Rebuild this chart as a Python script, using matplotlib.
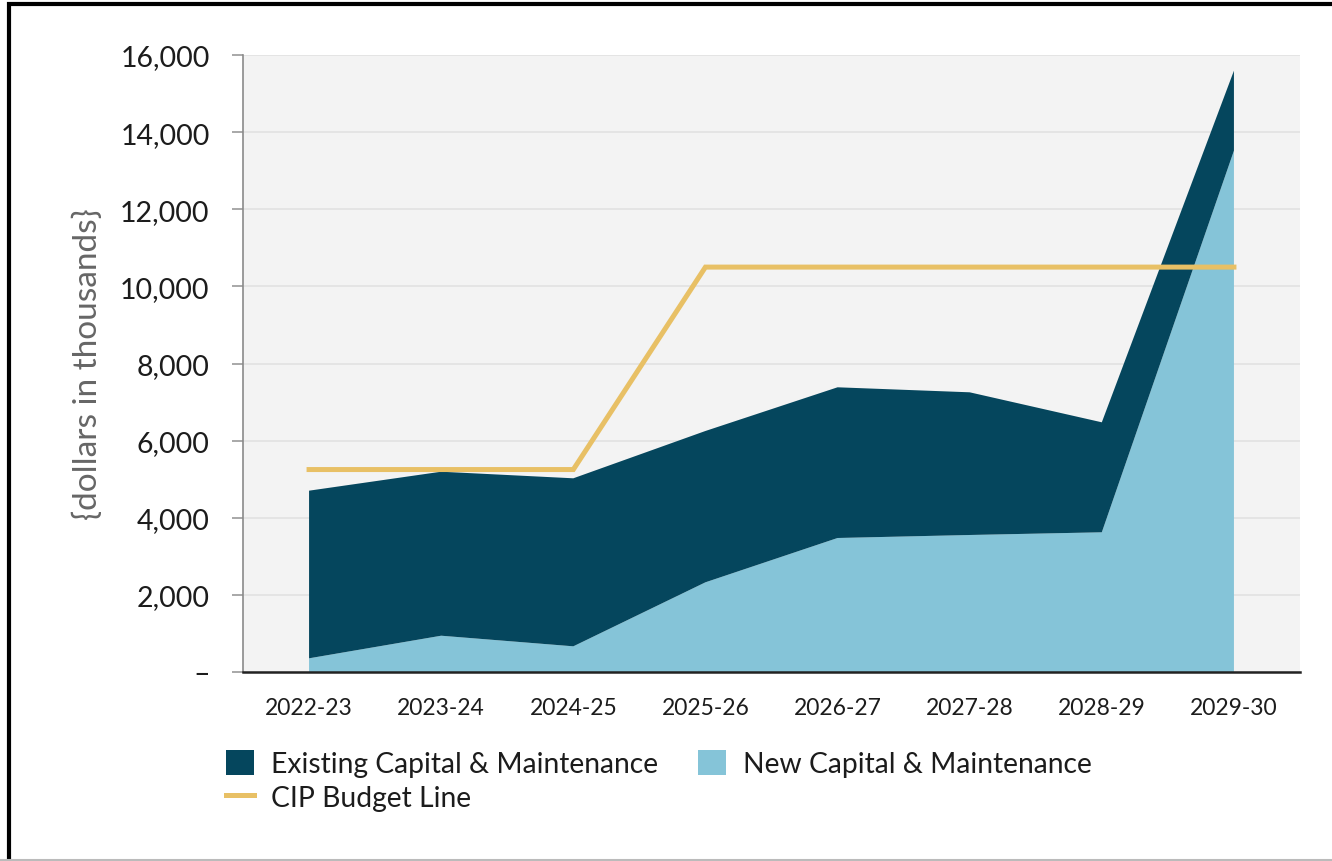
import matplotlib.pyplot as plt
from matplotlib.patches import Patch, Rectangle
from matplotlib.lines import Line2D
from matplotlib.ticker import FuncFormatter

plt.rcParams['font.family'] = ['Lato', 'DejaVu Sans']

years = ['2022-23', '2023-24', '2024-25', '2025-26', '2026-27', '2027-28', '2028-29', '2029-30']
new_capital = [355, 941, 666, 2326, 3475, 3553, 3623, 13519]
existing_capital = [4347, 4253, 4357, 3924, 3908, 3700, 2852, 2074]
cip_budget = [5250, 5250, 5250, 10500, 10500, 10500, 10500, 10500]

DARK = '#05465d'
LIGHT = '#85c4d8'
GOLD = '#e8c065'

fig = plt.figure(figsize=(13.32, 8.62), dpi=100)
ax = fig.add_axes([243 / 1332, 1 - 673 / 862, (1300 - 243) / 1332, (673 - 56) / 862])
ax.set_facecolor('#f3f3f3')

x = list(range(len(years)))
ax.stackplot(x, new_capital, existing_capital, colors=[LIGHT, DARK], linewidth=0, zorder=2)
ax.plot(x, cip_budget, color=GOLD, lw=3.6, zorder=3, solid_joinstyle='miter')

ax.set_xlim(-0.5, len(years) - 0.5)
ax.set_ylim(0, 16000)
ax.set_yticks(range(0, 16001, 2000))
ax.yaxis.set_major_formatter(FuncFormatter(lambda v, p: '\u2013' if v == 0 else f'{int(v):,}'))
ax.set_xticks(x)
ax.set_xticklabels(years)
ax.grid(axis='y', color='#e2e2e2', lw=1.2, zorder=1)
ax.set_axisbelow(True)

for side in ('top', 'right'):
    ax.spines[side].set_visible(False)
ax.spines['left'].set_color('#8a8a8a')
ax.spines['left'].set_linewidth(1.2)
ax.spines['bottom'].set_color('#222222')
ax.spines['bottom'].set_linewidth(1.8)

ax.tick_params(axis='y', length=8, width=1.2, color='#9a9a9a', labelsize=20.5, labelcolor='#1c1c1c', pad=16)
ax.tick_params(axis='x', length=0, labelsize=16.5, labelcolor='#1c1c1c', pad=18)
ax.set_ylabel('{dollars in thousands}', fontsize=24, color='#666666', labelpad=12)

handles = [
    Patch(facecolor=DARK, edgecolor='none', label='Existing Capital & Maintenance'),
    Line2D([], [], color=GOLD, lw=3.6, label='CIP Budget Line'),
    Patch(facecolor=LIGHT, edgecolor='none', label='New Capital & Maintenance'),
]
fig.legend(handles=handles, ncol=2, loc='upper left', bbox_to_anchor=(212 / 1332, 1 - 737 / 862),
           frameon=False, fontsize=20.3, handlelength=1.0, handleheight=1.0, handletextpad=0.6,
           columnspacing=1.4, labelspacing=0.22, borderpad=0, labelcolor='#1c1c1c')

# outer frame
fig.add_artist(Rectangle((9 / 1332, -0.01), 1.02, 1 - 5 / 862 + 0.01, transform=fig.transFigure,
                         fill=False, edgecolor='black', lw=3, clip_on=False))
fig.add_artist(Line2D([0, 1], [1 / 862, 1 / 862], transform=fig.transFigure, color='#bbbbbb', lw=1.5))

fig.savefig('out.png', dpi=100)
